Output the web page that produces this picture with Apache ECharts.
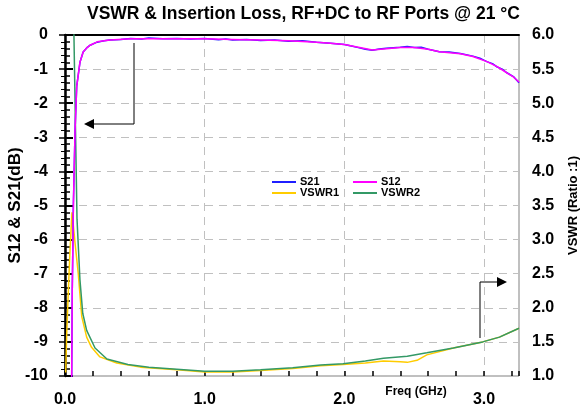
<!DOCTYPE html>
<html>
<head>
<meta charset="utf-8">
<title>VSWR & Insertion Loss</title>
<script src="https://cdn.jsdelivr.net/npm/echarts@6/dist/echarts.min.js"></script>
<style>
  html, body { margin: 0; padding: 0; background: #fff; }
  #main { width: 581px; height: 411px; }
</style>
</head>
<body>
<div id="main"></div>
<script>
// ---------------- data ----------------
// [freq GHz, dB]
var s21Data = [[0.047,-10.5],[0.052,-7.5],[0.06,-5],[0.072,-2.8],[0.084,-1.5],[0.107,-0.8],[0.13,-0.5],[0.16,-0.36],[0.18,-0.3],
  [0.23,-0.21],[0.28,-0.17],[0.32,-0.15],[0.4,-0.13],[0.47,-0.1],[0.55,-0.12],[0.6,-0.09],[0.7,-0.11],[0.8,-0.1],[0.9,-0.12],
  [1.0,-0.1],[1.1,-0.14],[1.15,-0.12],[1.2,-0.15],[1.3,-0.13],[1.4,-0.16],[1.5,-0.15],[1.6,-0.18],[1.7,-0.17],[1.8,-0.21],
  [1.9,-0.24],[2.0,-0.28],[2.05,-0.32],[2.1,-0.37],[2.15,-0.42],[2.2,-0.45],[2.25,-0.41],[2.3,-0.39],[2.4,-0.36],[2.45,-0.34],
  [2.5,-0.37],[2.55,-0.36],[2.6,-0.42],[2.68,-0.49],[2.75,-0.5],[2.83,-0.54],[2.92,-0.62],[2.97,-0.68],[3.02,-0.78],[3.06,-0.84],
  [3.09,-0.93],[3.13,-1.0],[3.16,-1.1],[3.21,-1.22],[3.25,-1.4]];
var s12Data = [[0.047,-10.5],[0.052,-7.5],[0.06,-5],[0.072,-2.8],[0.084,-1.5],[0.107,-0.8],[0.13,-0.5],[0.16,-0.36],[0.18,-0.3],
  [0.23,-0.2],[0.32,-0.15],[0.47,-0.11],[0.8,-0.11],[1.0,-0.11],[1.2,-0.13],[1.4,-0.15],[1.6,-0.17],[1.8,-0.21],[1.9,-0.24],
  [2.0,-0.28],[2.1,-0.36],[2.2,-0.44],[2.3,-0.4],[2.4,-0.37],[2.5,-0.37],[2.6,-0.42],[2.68,-0.49],[2.83,-0.55],[2.92,-0.63],
  [3.02,-0.78],[3.09,-0.92],[3.16,-1.1],[3.21,-1.23],[3.25,-1.38]];
// [freq GHz, VSWR]
var vswr1Data = [[0.005,1.05],[0.012,1.6],[0.025,2.3],[0.036,2.85],[0.05,3.4],[0.06,3.2],[0.072,2.95],[0.095,2.5],[0.12,1.87],
  [0.155,1.57],[0.19,1.42],[0.25,1.28],[0.37,1.19],[0.54,1.13],[0.8,1.09],[1.0,1.06],[1.2,1.06],[1.4,1.08],[1.63,1.11],
  [1.83,1.15],[1.99,1.17],[2.15,1.19],[2.28,1.22],[2.4,1.21],[2.45,1.2],[2.52,1.23],[2.59,1.31],[2.78,1.41],[2.99,1.5],
  [3.11,1.57],[3.25,1.7]];
var vswr2Data = [[0.06,7],[0.064,6],[0.086,3.3],[0.107,2.41],[0.127,1.92],[0.155,1.67],[0.215,1.41],[0.3,1.25],[0.45,1.17],
  [0.6,1.13],[0.8,1.1],[1.0,1.07],[1.2,1.07],[1.4,1.09],[1.63,1.12],[1.83,1.16],[1.99,1.18],[2.15,1.22],[2.28,1.26],
  [2.45,1.29],[2.59,1.34],[2.78,1.41],[2.99,1.5],[3.11,1.57],[3.25,1.7]];

var seriesNames = ['S21', 'S12', 'VSWR1', 'VSWR2'];
var seriesColors = ['#1f1fff', '#ff00ff', '#ffcc00', '#339966'];
var FONT = 'Liberation Sans, Arial';

function lineSeries(name, data, yIdx, z) {
  var idx = seriesNames.indexOf(name);
  return {
    name: name,
    type: 'line',
    data: data,
    xAxisIndex: 0,
    yAxisIndex: yIdx,
    showSymbol: false,
    symbol: 'none',
    z: z,
    lineStyle: { color: seriesColors[idx], width: 1.5 },
    itemStyle: { color: seriesColors[idx] }
  };
}

// 图例: 每项单独定位, 排成 2x2
function legendItem(name, left, top) {
  return {
    data: [name], left: left, top: top, padding: 0, icon: 'rect', itemWidth: 24, itemHeight: 2,
    textStyle: { fontFamily: FONT, fontWeight: 'bold', fontSize: 11, lineHeight: 12, color: '#000', padding: [0, 0, 0, -1] }
  };
}

function initChart() {
  var myChart = echarts.init(document.getElementById('main'));

  var option = {
    animation: false,
    textStyle: { fontFamily: FONT },
    title: {
      text: 'VSWR & Insertion Loss, RF+DC to RF Ports @ 21 °C',
      left: 87,
      top: 5,
      padding: 0,
      textStyle: { fontFamily: FONT, fontWeight: 'bold', fontSize: 17.5, color: '#000' }
    },
    grid: {
      left: 65, right: 62, top: 35, bottom: 35, outerBoundsMode: 'none', containLabel: false,
      show: true, borderColor: '#808080', borderWidth: 1
    },
    legend: [
      legendItem('S21', 272, 176),
      legendItem('S12', 353, 176),
      legendItem('VSWR1', 272, 187),
      legendItem('VSWR2', 353, 187)
    ],
    xAxis: [
      {
        type: 'value', min: 0, max: 3.25, interval: 1,
        axisLine: { lineStyle: { color: '#000', width: 2 } },
        axisTick: { show: false },
        axisLabel: {
          showMaxLabel: false, margin: 16, fontSize: 16, fontFamily: FONT, fontWeight: 'bold', color: '#000',
          formatter: function (v) { return v.toFixed(1); }
        },
        splitLine: { show: true, lineStyle: { color: '#c0c0c0', type: [8, 6], width: 1 } }
      },
      {
        // 只画刻度 (0.2 GHz)
        type: 'value', min: 0, max: 3.25, interval: 0.2, position: 'bottom',
        axisLine: { show: false },
        axisTick: { show: true, inside: true, length: 5, lineStyle: { color: '#000', width: 1.5 } },
        axisLabel: { show: false },
        splitLine: { show: false }
      }
    ],
    yAxis: [
      {
        type: 'value', min: -10, max: 0, interval: 1, position: 'left',
        name: 'S12 & S21(dB)', nameLocation: 'middle', nameGap: 41, nameRotate: 90, nameMoveOverlap: false,
        nameTextStyle: { fontFamily: FONT, fontWeight: 'bold', fontSize: 17, color: '#000' },
        axisLine: { lineStyle: { color: '#000', width: 2.5 } },
        axisTick: { inside: true, length: 8, lineStyle: { color: '#000', width: 2 } },
        minorTick: { show: true, splitNumber: 5, length: 5, lineStyle: { color: '#000', width: 1.5 } },
        axisLabel: { margin: 17, fontSize: 16, fontFamily: FONT, fontWeight: 'bold', color: '#000' },
        splitLine: { show: true, lineStyle: { color: '#c0c0c0', type: [8, 6], width: 1 } }
      },
      {
        type: 'value', min: 1, max: 6, interval: 0.5, position: 'right',
        name: 'VSWR (Ratio :1)', nameLocation: 'middle', nameGap: 48, nameRotate: 90, nameMoveOverlap: false,
        nameTextStyle: { fontFamily: FONT, fontWeight: 'bold', fontSize: 13, color: '#000' },
        axisLine: { show: true, lineStyle: { color: '#000', width: 1 } },
        axisTick: { inside: true, length: 6, lineStyle: { color: '#000', width: 1.5 } },
        minorTick: { show: true, splitNumber: 5, length: 4, lineStyle: { color: '#000', width: 1 } },
        axisLabel: {
          margin: 13, fontSize: 16, fontFamily: FONT, fontWeight: 'bold', color: '#000',
          formatter: function (v) { return v.toFixed(1); }
        },
        splitLine: { show: false }
      }
    ],
    graphic: [
      // 箭头: 指向左轴
      { type: 'polyline', shape: { points: [[134, 43], [134, 124], [92, 124]] }, style: { stroke: '#000', lineWidth: 1, fill: null } },
      { type: 'polygon', shape: { points: [[84, 124], [94, 119], [94, 129]] }, style: { fill: '#000' } },
      // 箭头: 指向右轴
      { type: 'polyline', shape: { points: [[480, 338], [480, 282], [499, 282]] }, style: { stroke: '#000', lineWidth: 1, fill: null } },
      { type: 'polygon', shape: { points: [[507, 282], [497, 277], [497, 287]] }, style: { fill: '#000' } },
      {
        type: 'text', x: 416, y: 392,
        style: { text: 'Freq (GHz)', font: 'bold 12px Liberation Sans, Arial', fill: '#000', align: 'center', verticalAlign: 'middle' }
      }
    ],
    series: [
      lineSeries('VSWR1', vswr1Data, 1, 2),
      lineSeries('VSWR2', vswr2Data, 1, 3),
      lineSeries('S21', s21Data, 0, 4),
      lineSeries('S12', s12Data, 0, 5)
    ]
  };
  myChart.setOption(option);
}

initChart();
</script>
</body>
</html>
